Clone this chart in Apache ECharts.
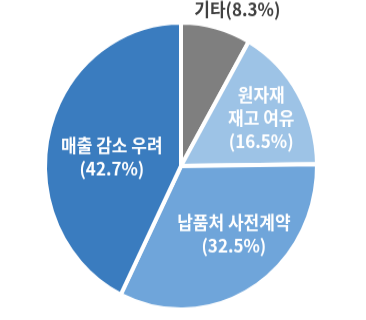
<!DOCTYPE html>
<html><head><meta charset="utf-8">
<script src="https://cdn.jsdelivr.net/npm/echarts@6/dist/echarts.min.js"></script>
<style>html,body{margin:0;padding:0;background:#fff;overflow:hidden}#c{width:366px;height:320px;transform:scaleY(1.055);transform-origin:50% 166px}</style>
</head><body><div id="c"></div>
<script>
const categories = ['기타', '원자재\n재고 여유', '납품처 사전계약', '매출 감소 우려'];
const values = [8.3, 16.5, 32.5, 42.7];
const colors = ['#7f7f7f', '#9dc3e6', '#6fa5da', '#3a7cbf'];
const labelSep = ['', '\n', '\n', '\n'];
const labelShift = [[38, -80], [19, -10], [15, 4], [0, 8]];

const chart = echarts.init(document.getElementById('c'));
chart.setOption({
  animation: false,
  series: [{
    type: 'pie',
    center: [181, 166],
    radius: [0, 136],
    startAngle: 90,
    clockwise: true,
    data: categories.map((n, i) => ({
      name: n, value: values[i],
      itemStyle: { color: colors[i] },
      label: i === 0 ? { color: '#404040' } : {}
    })),
    itemStyle: { borderColor: '#fff', borderWidth: 4 },
    label: {
      show: true, position: 'inside',
      fontFamily: 'Noto Sans CJK KR', fontWeight: 'bold', fontSize: 17,
      lineHeight: 22, color: '#fff', align: 'center',
      formatter: p => p.name + labelSep[p.dataIndex] + '(' + p.value + '%)'
    },
    labelLine: { show: false },
    labelLayout: p => ({ dx: labelShift[p.dataIndex][0], dy: labelShift[p.dataIndex][1] })
  }]
});
</script></body></html>
